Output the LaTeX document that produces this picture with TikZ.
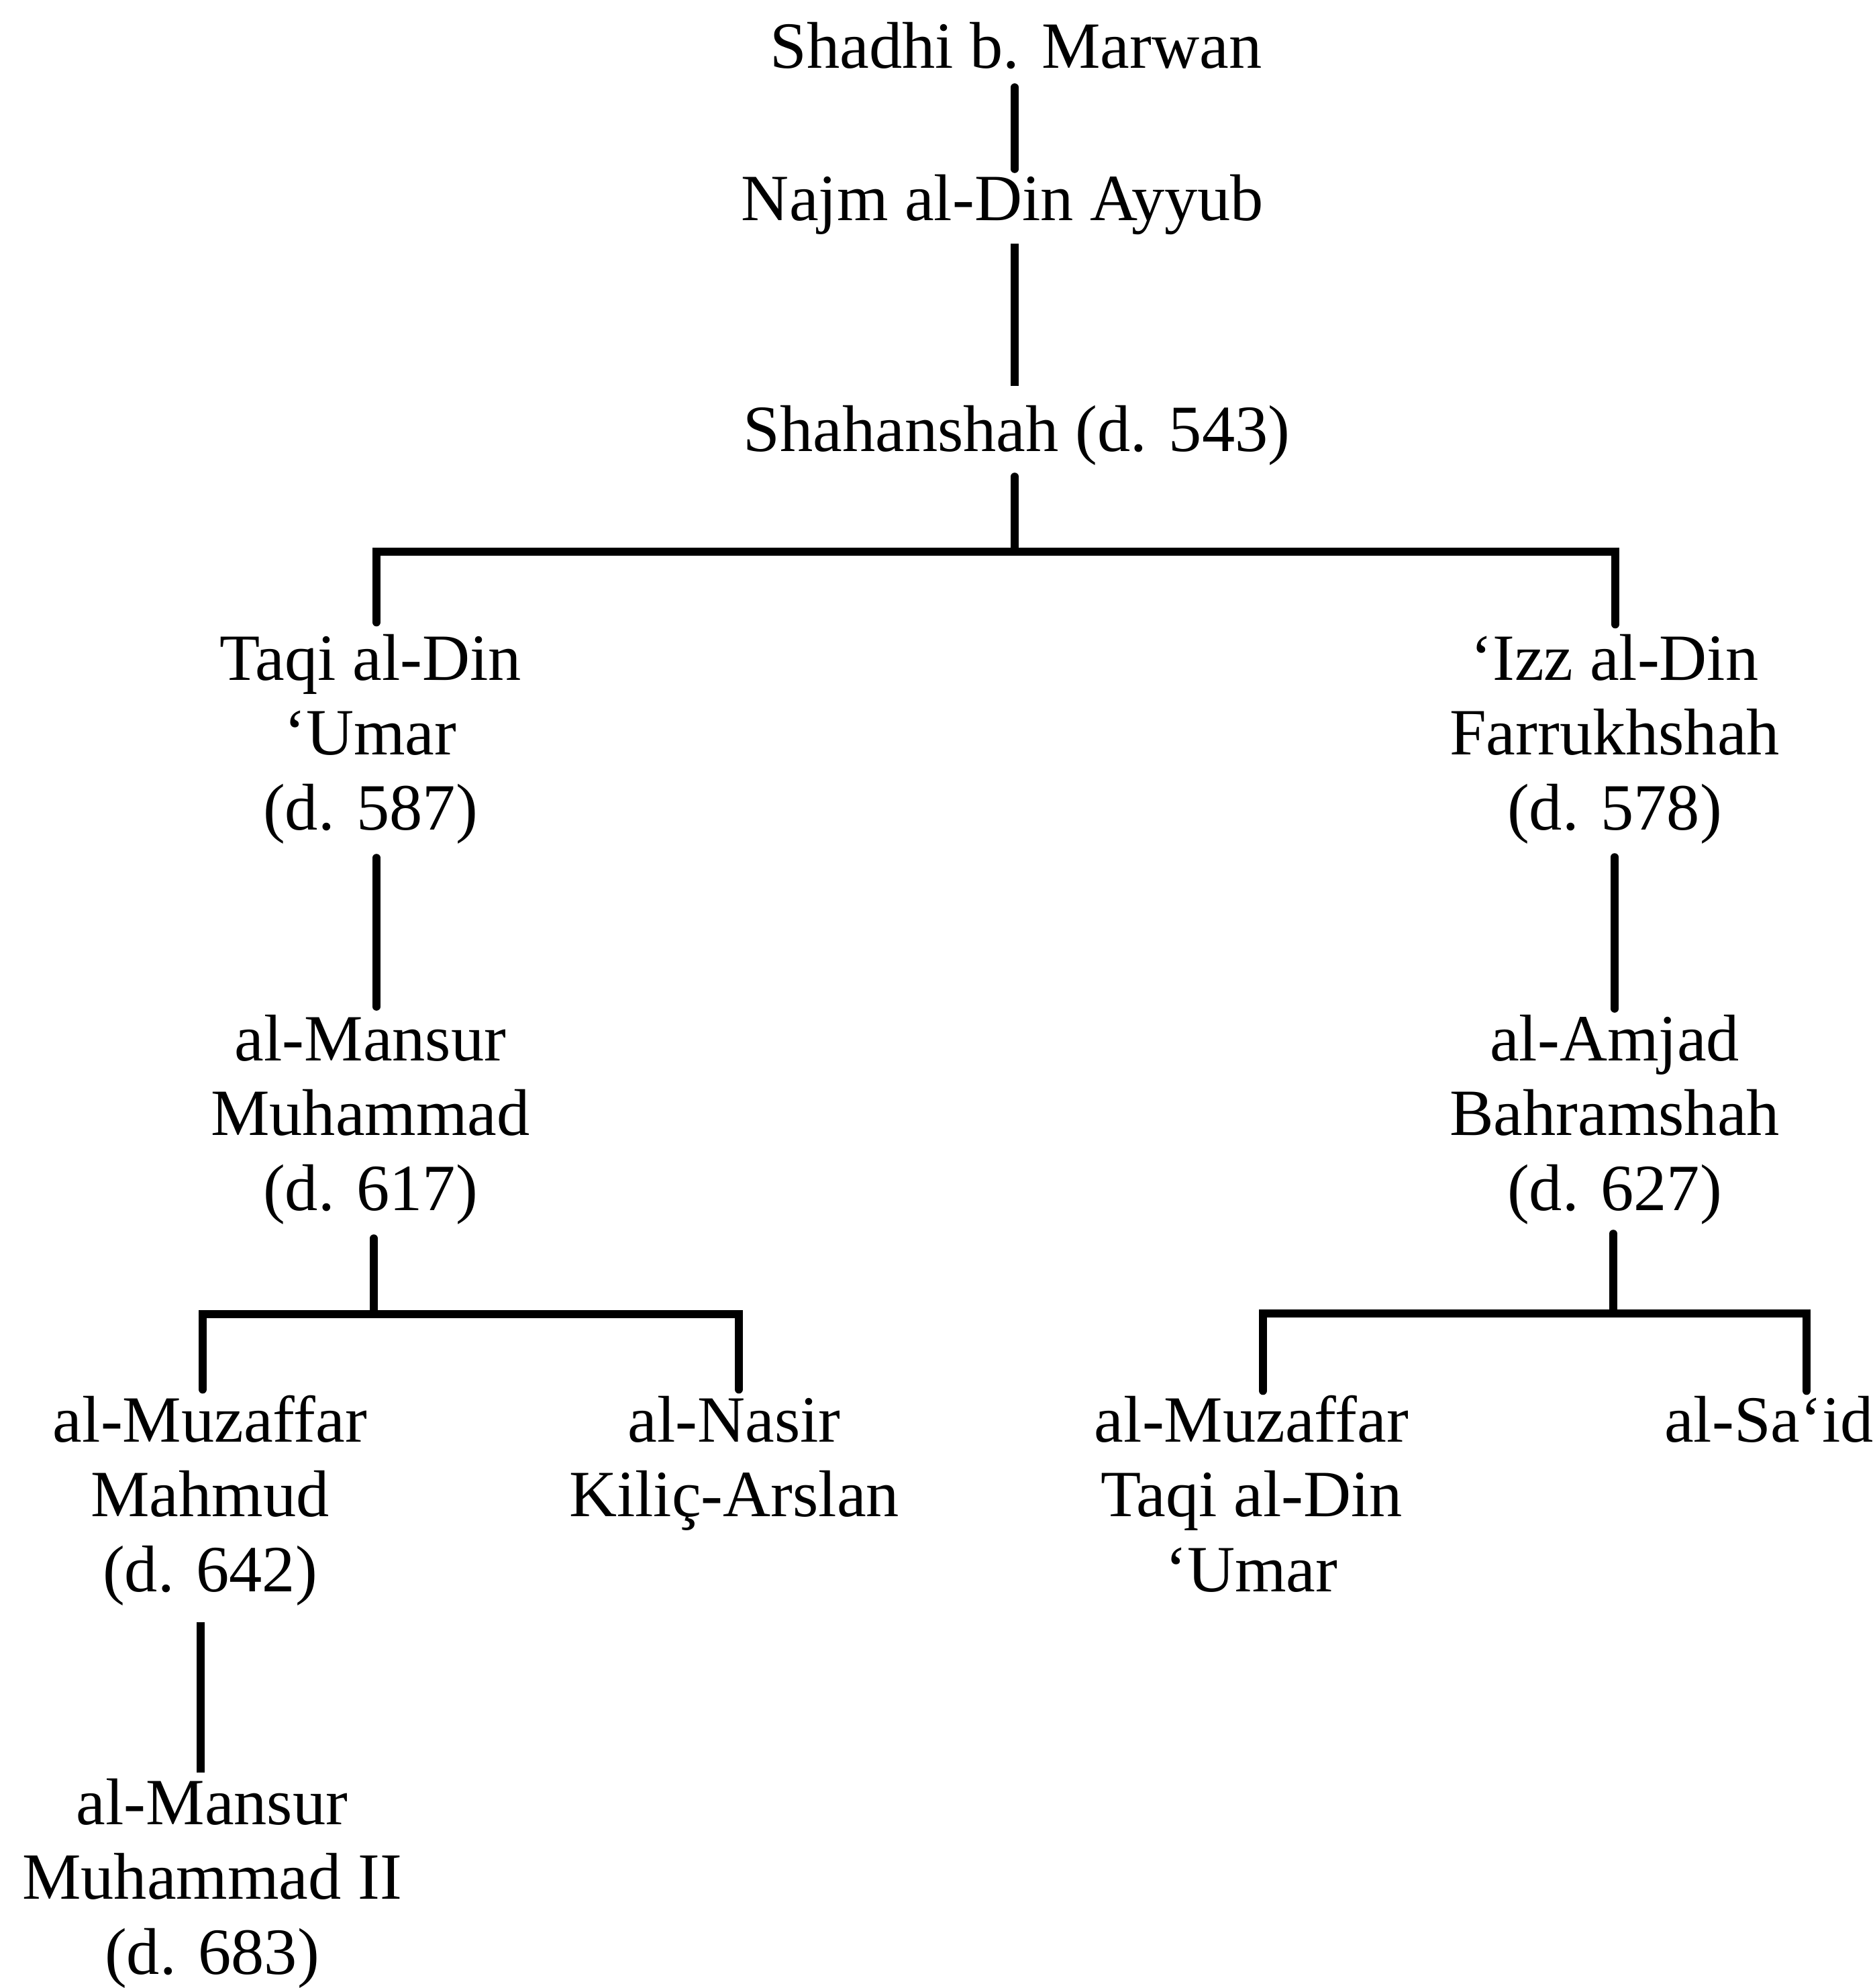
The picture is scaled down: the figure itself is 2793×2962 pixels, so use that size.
\documentclass[tikz,border=0pt]{standalone}
\usepackage{fontspec}
\setmainfont{Liberation Serif}
\newcommand{\names}[1]{\begin{tabular}[t]{@{}c@{}}#1\end{tabular}}
\begin{document}
\begin{tikzpicture}[x=0.1mm,y=-0.1mm,
  person/.style={inner sep=0pt, anchor=base, font=\fontsize{28}{31.8}\selectfont},
  link/.style={line width=3.3pt, line cap=round},
  flat/.style={line width=3.3pt, line cap=butt},
  bar/.style={line width=3.6pt, line cap=round, line join=miter}]
\useasboundingbox[fill=white] (0,0) rectangle (2793,2962);

% people
\node[person] (shadhi)  at (1514,102)  {Shadhi b. Marwan};
\node[person] (najm)    at (1494,328)  {Najm al-Din Ayyub};
\node[person] (shah)    at (1515,672)  {Shahanshah (d. 543)};
\node[person] (taqi)    at (552,1013)  {\names{Taqi al-Din\\‘Umar\\(d. 587)}};
\node[person] (izz)     at (2406,1013) {\names{‘Izz al-Din\\Farrukhshah\\(d. 578)}};
\node[person] (mansur)  at (552,1580)  {\names{al-Mansur\\Muhammad\\(d. 617)}};
\node[person] (amjad)   at (2406,1580) {\names{al-Amjad\\Bahramshah\\(d. 627)}};
\node[person] (mahmud)  at (313,2148)  {\names{al-Muzaffar\\Mahmud\\(d. 642)}};
\node[person] (nasir)   at (1094,2148) {\names{al-Nasir\\Kiliç-Arslan}};
\node[person] (umartwo) at (1865,2148) {\names{al-Muzaffar\\Taqi al-Din\\‘Umar}};
\node[person] (said)    at (2636,2148) {al-Sa‘id};
\node[person] (mansurtwo) at (316,2718) {\names{al-Mansur\\Muhammad II\\(d. 683)}};

% connector ends
\coordinate (shadhiB) at (1512,130);  \coordinate (najmT) at (1512,252);
\coordinate (najmB)   at (1512,363);  \coordinate (shahT) at (1512,575);
\coordinate (shahB)   at (1512,710);  \coordinate (jA)    at (1512,822);
\coordinate (jAl)     at (561,822);   \coordinate (jAr)   at (2407,822);
\coordinate (taqiT)   at (561,927);   \coordinate (izzT)  at (2407,930);
\coordinate (taqiB)   at (561,1278);  \coordinate (mansurT) at (561,1500);
\coordinate (izzB)    at (2406,1277); \coordinate (amjadT)  at (2406,1503);
\coordinate (mansurB) at (557,1845);  \coordinate (jB)    at (557,1958);
\coordinate (jBl)     at (302,1958);  \coordinate (jBr)   at (1101,1958);
\coordinate (mahmudT) at (302,2070);  \coordinate (nasirT) at (1101,2070);
\coordinate (amjadB)  at (2404,1838); \coordinate (jC)    at (2404,1957);
\coordinate (jCl)     at (1882,1957); \coordinate (jCr)   at (2692,1957);
\coordinate (umarT)   at (1882,2072); \coordinate (saidT) at (2692,2072);
\coordinate (mahmudB) at (299,2417);  \coordinate (mansurtwoT) at (299,2641);

% connectors
\draw[link] (shadhiB) -- (najmT);
\draw[flat] (najmB) -- (shahT);
\draw[link] (shahB) -- (jA);
\draw[bar] (taqiT) -- (jAl) -- (jAr) -- (izzT);
\draw[link] (taqiB) -- (mansurT);
\draw[link] (izzB) -- (amjadT);
\draw[link] (mansurB) -- (jB);
\draw[bar] (mahmudT) -- (jBl) -- (jBr) -- (nasirT);
\draw[link] (amjadB) -- (jC);
\draw[bar] (umarT) -- (jCl) -- (jCr) -- (saidT);
\draw[flat] (mahmudB) -- (mansurtwoT);
\end{tikzpicture}
\end{document}
